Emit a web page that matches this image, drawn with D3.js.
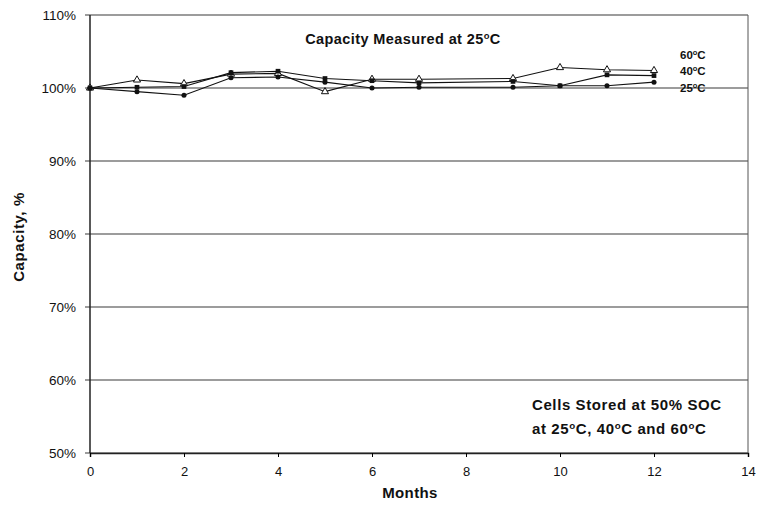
<!DOCTYPE html>
<html><head><meta charset="utf-8">
<script src="https://cdn.jsdelivr.net/npm/d3@7"></script>
<style>body{margin:0;background:#fff}svg{display:block}text{font-family:"Liberation Sans",Arial,sans-serif;fill:#111}</style>
</head><body><svg id="c" width="761" height="514"></svg>
<script>
const months = [0,1,2,3,4,5,6,7,9,10,11,12];
const s60 = [100,101.1,100.6,101.9,102.0,99.5,101.2,101.2,101.3,102.8,102.5,102.4];
const s40 = [100,100.1,100.2,102.1,102.3,101.3,101.0,100.7,100.9,100.3,101.8,101.7];
const s25 = [100,99.5,99.0,101.4,101.5,100.8,100.0,100.1,100.1,100.3,100.3,100.8];
const xTicks = [0,2,4,6,8,10,12,14];
const yTicks = [50,60,70,80,90,100,110];

const svg = d3.select("#c");
const x = d3.scaleLinear().domain([0,14]).range([90,748]);
const y = d3.scaleLinear().domain([50,110]).range([453,15]);

// gridlines
svg.append("g").selectAll("line").data(yTicks).join("line")
  .attr("x1",85).attr("x2",748).attr("y1",d=>y(d)).attr("y2",d=>y(d))
  .attr("stroke","#3a3a3a").attr("stroke-width",1.2);
// frame
svg.append("line").attr("x1",90).attr("x2",90).attr("y1",15).attr("y2",453).attr("stroke","#222").attr("stroke-width",1.5);
svg.append("line").attr("x1",748).attr("x2",748).attr("y1",15).attr("y2",453).attr("stroke","#555").attr("stroke-width",1);
// x axis
const xa = svg.append("g").attr("transform","translate(0,453)")
  .call(d3.axisBottom(x).tickValues(xTicks).tickSize(4).tickFormat(d3.format("d")));
xa.select(".domain").attr("stroke","#222").attr("stroke-width",1.5);
xa.selectAll("text").attr("font-size",13).attr("dy","1.2em").attr("fill","#222");
// y labels
svg.append("g").selectAll("text").data(yTicks).join("text")
  .attr("x",76).attr("y",d=>y(d)+5).attr("text-anchor","end").attr("font-size",13.5).attr("fill","#222")
  .text(d=>d+"%");

// series
const data = [s60,s40,s25];
const line = d3.line().x((d,i)=>x(months[i])).y(d=>y(d));
data.forEach(s=>{
  svg.append("path").datum(s).attr("d",line).attr("fill","none").attr("stroke","#111").attr("stroke-width",1.1);
});
// markers
svg.append("g").selectAll("path").data(s60).join("path")
  .attr("transform",(d,i)=>`translate(${x(months[i])},${y(d)})`)
  .attr("d",d3.symbol(d3.symbolTriangle,22)).attr("fill","#fff").attr("stroke","#111").attr("stroke-width",1);
svg.append("g").selectAll("path").data(s40).join("path")
  .attr("transform",(d,i)=>`translate(${x(months[i])},${y(d)})`)
  .attr("d",d3.symbol(d3.symbolSquare,22)).attr("fill","#111");
svg.append("g").selectAll("path").data(s25).join("path")
  .attr("transform",(d,i)=>`translate(${x(months[i])},${y(d)})`)
  .attr("d",d3.symbol(d3.symbolCircle,20)).attr("fill","#111");

function deg(t, parts){
  parts.forEach(p=>{
    const ts=t.append("tspan").text(p[0]);
    if(p[1]) ts.attr("baseline-shift","super").attr("font-size","65%");
  });
}
// series labels
[["60",55],["40",71],["25",88]].forEach(([n,yy])=>{
  const t=svg.append("text").attr("x",680).attr("y",yy+4).attr("font-size",11.5).attr("font-weight","bold");
  deg(t,[[n],["o",1],["C"]]);
});

// title
const tt = svg.append("text").attr("x",403).attr("y",44).attr("text-anchor","middle").attr("font-size",14.5).attr("font-weight","bold").attr("letter-spacing",0.4);
deg(tt,[["Capacity Measured at 25"],["o",1],["C"]]);
// annotation
svg.append("text").attr("x",532).attr("y",410).attr("font-size",15).attr("font-weight","bold").attr("letter-spacing",0.6).text("Cells Stored at 50% SOC");
const an = svg.append("text").attr("x",532).attr("y",434).attr("font-size",15).attr("font-weight","bold").attr("letter-spacing",0.6);
deg(an,[["at 25"],["o",1],["C, 40"],["o",1],["C and 60"],["o",1],["C"]]);

// axis titles
svg.append("text").attr("x",410).attr("y",498).attr("text-anchor","middle").attr("font-size",15).attr("font-weight","bold").attr("letter-spacing",0.4).text("Months");
svg.append("text").attr("transform","translate(24,237) rotate(-90)").attr("text-anchor","middle").attr("font-size",15).attr("font-weight","bold").attr("letter-spacing",0.6).text("Capacity, %");
</script></body></html>
